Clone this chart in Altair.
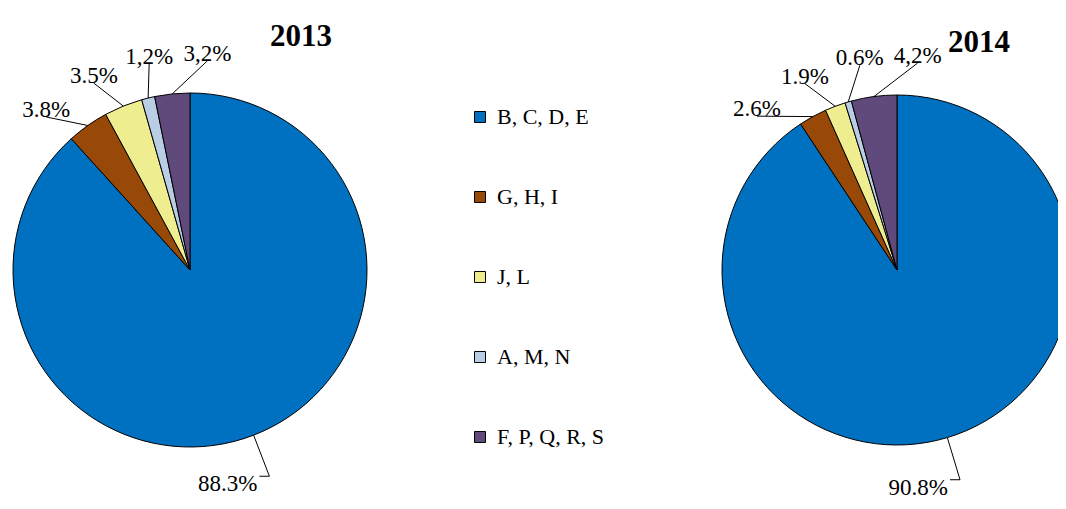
import altair as alt
import pandas as pd

categories = ["B, C, D, E", "G, H, I", "J, L", "A, M, N", "F, P, Q, R, S"]
years = ["2013", "2014"]
values_2013 = [88.3, 3.8, 3.5, 1.2, 3.2]
values_2014 = [90.8, 2.6, 1.9, 0.6, 4.2]
labels_2013 = ["88.3%", "3.8%", "3.5%", "1,2%", "3,2%"]
labels_2014 = ["90.8%", "2.6%", "1.9%", "0.6%", "4,2%"]
colors = ["#0070C0", "#984807", "#EEEE90", "#B9CDE5", "#604A7B"]

rows = []
for yr, vals, labs in [(years[0], values_2013, labels_2013), (years[1], values_2014, labels_2014)]:
    for i, (c, v, l) in enumerate(zip(categories, vals, labs)):
        rows.append({"year": yr, "cat": c, "value": v, "label": l, "order": i})
df = pd.DataFrame(rows)

W, H = 1050, 493
FONT = "Liberation Serif"
STEP = 16 * 3.141592653589793 / 180
xs = alt.Scale(domain=[0, W], range=[0, W])
ys = alt.Scale(domain=[0, H], range=[0, H])

legend = alt.Legend(
    title=None, orient="none", legendX=461, legendY=98,
    symbolType="square", symbolSize=121, symbolStrokeColor="black",
    symbolStrokeWidth=1, symbolOpacity=1, labelFont=FONT, labelFontSize=22,
    labelColor="black", rowPadding=58, labelOffset=6, padding=0,
)
color = alt.Color("cat:N", scale=alt.Scale(domain=categories, range=colors),
                  legend=legend, sort=categories)


def pie(yr, cx, cy, r, tdx, tdy):
    base = alt.Chart(df).transform_filter(alt.datum.year == yr)
    arc = base.mark_arc(radius=r, stroke="black", strokeWidth=1).encode(
        theta=alt.Theta("value:Q", stack=True),
        color=color,
        order=alt.Order("order:Q"),
        x=alt.value(cx), y=alt.value(cy),
    )
    geo = (
        base.transform_joinaggregate(total="sum(value)")
        .transform_window(cum="sum(value)", sort=[alt.SortField("order")], frame=[None, 0])
        .transform_calculate(mid="(datum.cum - datum.value / 2) / datum.total * 2 * PI")
        .transform_calculate(small="datum.value / datum.total < 0.2")
        .transform_window(rk="row_number()", groupby=["small"], sort=[alt.SortField("order")])
        .transform_joinaggregate(pivot="mean(mid)", n="count()", groupby=["small"])
        .transform_calculate(la=f"datum.small ? datum.pivot + (datum.rk - (datum.n + 1) / 2) * {STEP} : datum.mid")
        .transform_calculate(rl=f"datum.small ? {r + 33} : {r + 44}")
        .transform_calculate(ex=f"{cx} + {r} * sin(datum.mid)")
        .transform_calculate(ey=f"{cy} - {r} * cos(datum.mid)")
        .transform_calculate(bx=f"{cx} + datum.rl * sin(datum.la)")
        .transform_calculate(by=f"{cy} - datum.rl * cos(datum.la)")
        .transform_calculate(hx="datum.small ? datum.bx : datum.bx - 10")
        .transform_calculate(ty="datum.small ? datum.by - 7 : datum.by + 8")
        .transform_calculate(tx="datum.small ? datum.bx : datum.hx - 2")
    )
    leader = geo.mark_rule(color="black", strokeWidth=1).encode(
        x=alt.X("ex:Q", scale=xs, axis=None),
        y=alt.Y("ey:Q", scale=ys, axis=None),
        x2="bx:Q", y2="by:Q",
    )
    tick = geo.transform_filter("!datum.small").mark_rule(color="black", strokeWidth=1).encode(
        x=alt.X("bx:Q", scale=xs, axis=None),
        y=alt.Y("by:Q", scale=ys, axis=None),
        x2="hx:Q",
    )
    text_small = geo.transform_filter("datum.small").mark_text(
        font=FONT, fontSize=23, align="center", color="black"
    ).encode(
        x=alt.X("tx:Q", scale=xs, axis=None),
        y=alt.Y("ty:Q", scale=ys, axis=None),
        text="label:N",
    )
    text_big = geo.transform_filter("!datum.small").mark_text(
        font=FONT, fontSize=23, align="right", color="black"
    ).encode(
        x=alt.X("tx:Q", scale=xs, axis=None),
        y=alt.Y("ty:Q", scale=ys, axis=None),
        text="label:N",
    )
    title = alt.Chart(pd.DataFrame({"year": [yr]})).mark_text(
        font=FONT, fontSize=31, fontWeight="bold", align="center", color="black"
    ).encode(x=alt.value(cx + tdx), y=alt.value(cy + tdy), text="year:N")
    return [arc, leader, tick, text_small, text_big, title]


layers = pie(years[0], 182, 262, 177, 111, -233) + pie(years[1], 889, 262, 175, 82, -227)

chart = (
    alt.layer(*layers)
    .resolve_scale(theta="independent")
    .properties(width=W, height=H, autosize=alt.AutoSizeParams(type="none"), padding=0,
                background="white")
    .configure_view(stroke=None)
)

chart.save("out.html", embed_options={"renderer": "svg", "actions": False})
